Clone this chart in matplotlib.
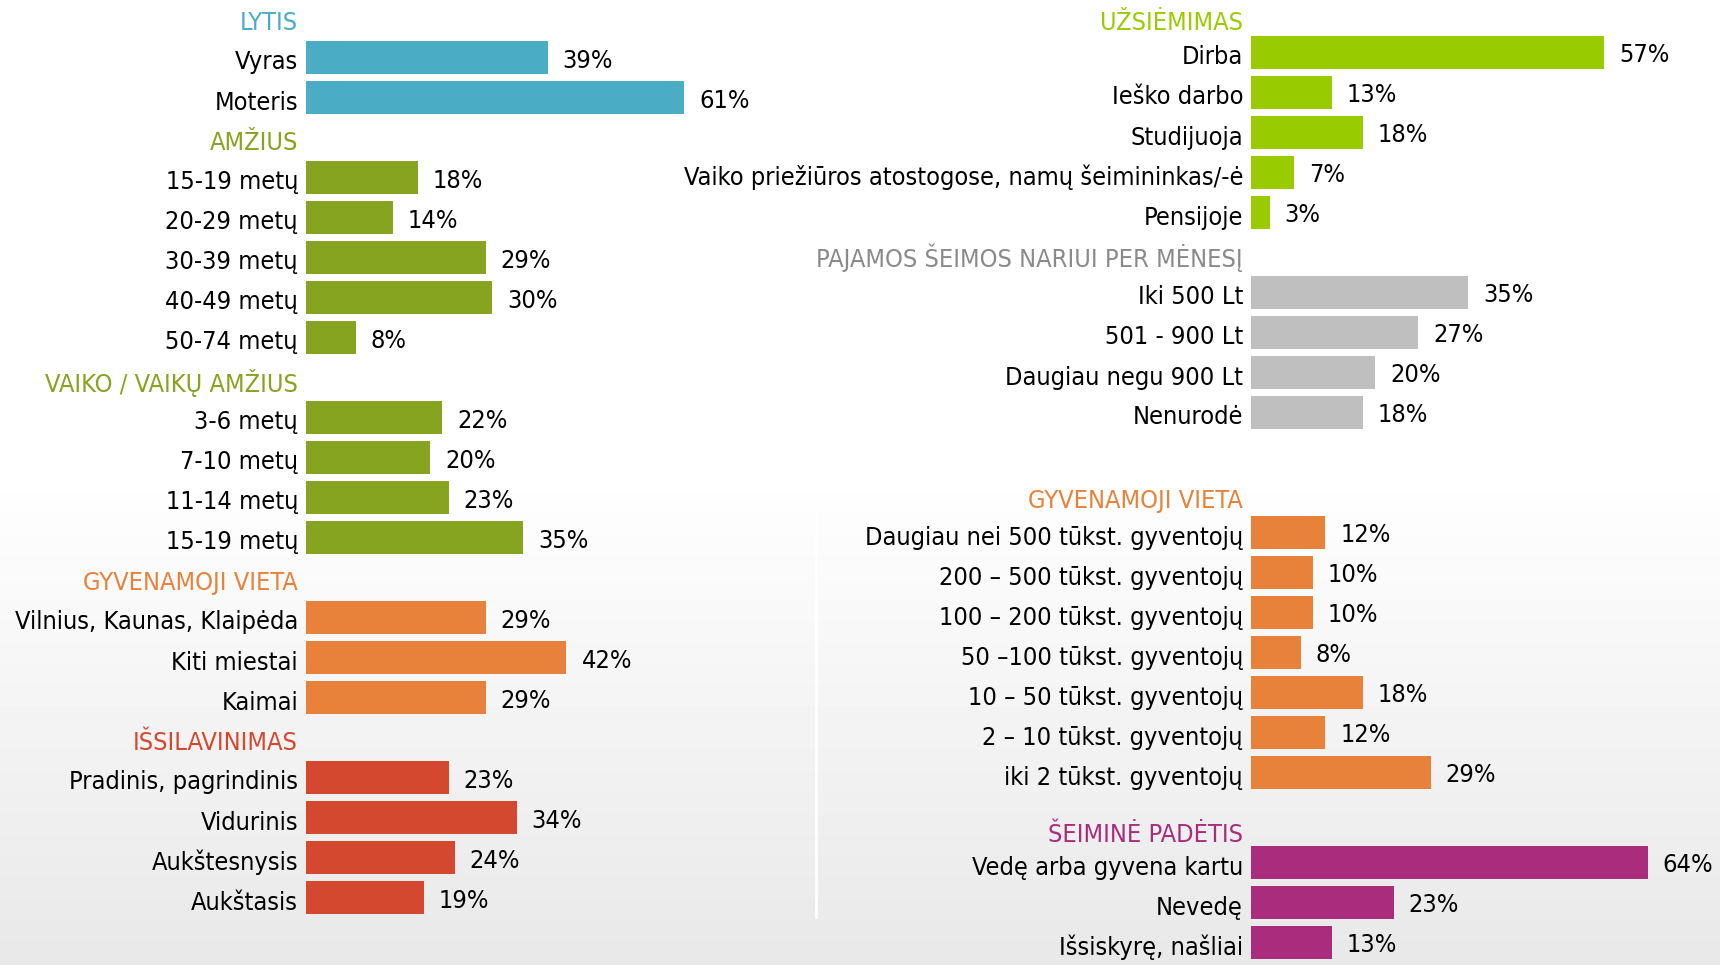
import numpy as np
import matplotlib
matplotlib.use('Agg')
import matplotlib.pyplot as plt

plt.rcParams['font.family'] = ['DejaVu Sans']

# ---------------- data ----------------
# left column
lytis_lab = ['Vyras', 'Moteris']
lytis_val = [39, 61]
amz_lab = ['15-19 metų', '20-29 metų', '30-39 metų', '40-49 metų', '50-74 metų']
amz_val = [18, 14, 29, 30, 8]
vaik_lab = ['3-6 metų', '7-10 metų', '11-14 metų', '15-19 metų']
vaik_val = [22, 20, 23, 35]
gyv_l_lab = ['Vilnius, Kaunas, Klaipėda', 'Kiti miestai', 'Kaimai']
gyv_l_val = [29, 42, 29]
iss_lab = ['Pradinis, pagrindinis', 'Vidurinis', 'Aukštesnysis', 'Aukštasis']
iss_val = [23, 34, 24, 19]

# right column
uzs_lab = ['Dirba', 'Ieško darbo', 'Studijuoja',
           'Vaiko priežiūros atostogose, namų šeimininkas/-ė', 'Pensijoje']
uzs_val = [57, 13, 18, 7, 3]
paj_lab = ['Iki 500 Lt', '501 - 900 Lt', 'Daugiau negu 900 Lt', 'Nenurodė']
paj_val = [35, 27, 20, 18]
gyv_r_lab = ['Daugiau nei 500 tūkst. gyventojų', '200 – 500 tūkst. gyventojų',
             '100 – 200 tūkst. gyventojų', '50 –100 tūkst. gyventojų',
             '10 – 50 tūkst. gyventojų', '2 – 10 tūkst. gyventojų',
             'iki 2 tūkst. gyventojų']
gyv_r_val = [12, 10, 10, 8, 18, 12, 29]
sei_lab = ['Vedę arba gyvena kartu', 'Nevedę', 'Išsiskyrę, našliai']
sei_val = [64, 23, 13]

# colours
c_blue = '#4BACC6'
c_olive = '#86A41F'
c_orange = '#E8813A'
c_red = '#D4482F'
c_lime = '#99CC00'
c_gray = '#BFBFBF'
c_gray_txt = '#8A8A8A'
c_mag = '#A92C7D'

# (header, labels, values, bar colour, header colour, header row, first item row)
left_groups = [
    ('LYTIS', lytis_lab, lytis_val, c_blue, c_blue, 0.06, 1),
    ('AMŽIUS', amz_lab, amz_val, c_olive, c_olive, 3.06, 4),
    ('VAIKO / VAIKŲ AMŽIUS', vaik_lab, vaik_val, c_olive, c_olive, 9.06, 10),
    ('GYVENAMOJI VIETA', gyv_l_lab, gyv_l_val, c_orange, c_orange, 14.06, 15),
    ('IŠSILAVINIMAS', iss_lab, iss_val, c_red, c_red, 18.06, 19),
]
right_groups = [
    ('UŽSIĖMIMAS', uzs_lab, uzs_val, c_lime, c_lime, 0.19, 1),
    ('PAJAMOS ŠEIMOS NARIUI PER MĖNESĮ', paj_lab, paj_val, c_gray, c_gray_txt, 6.06, 7),
    ('GYVENAMOJI VIETA', gyv_r_lab, gyv_r_val, c_orange, c_orange, 12.14, 13),
    ('ŠEIMINĖ PADĖTIS', sei_lab, sei_val, c_mag, c_mag, 20.5, 21.25),
]

# ---------------- layout (pixels) ----------------
W, H = 1720, 965
PXP = 6.2          # pixels per percent
ROW = 40.0         # row pitch
BAR_H = 33.0
FS = 18.2
TXT = dict(fontsize=FS, fontstretch='condensed')

fig = plt.figure(figsize=(W / 100, H / 100), dpi=100)

# background gradient
ax_bg = fig.add_axes([0, 0, 1, 1], zorder=-1)
yy = np.arange(H)
g = np.clip((yy - 470) / (H - 470), 0, 1)
shade = 1.0 - g * (1.0 - 232 / 255)
img = np.repeat(shade[:, None], 2, axis=1)
ax_bg.imshow(img, cmap='gray', vmin=0, vmax=1, aspect='auto',
             extent=(0, W, H, 0))
ax_bg.plot([816, 816], [475, 917], color='white', lw=2)
ax_bg.set_xlim(0, W)
ax_bg.set_ylim(H, 0)
ax_bg.axis('off')


def panel(x0, y0, groups):
    xmax = (W - x0) / PXP
    ax = fig.add_axes([x0 / W, 0, (W - x0) / W, 1])
    ax.set_xlim(0, xmax)
    ax.set_ylim(H, 0)
    ax.axis('off')
    gap = 8 / PXP
    for head, labs, vals, col, hcol, hrow, frow in groups:
        ax.text(-gap, y0 + hrow * ROW + 3, head, ha='right', va='center',
                color=hcol, **TXT)
        ys = [y0 + (frow + i) * ROW for i in range(len(labs))]
        ax.barh(ys, vals, height=BAR_H, left=0, color=col)
        for y, lab, v in zip(ys, labs, vals):
            ax.text(-gap, y + 5, lab, ha='right', va='center',
                    color='black', **TXT)
            ax.text(v + 15 / PXP, y + 3, '%d%%' % v, ha='left', va='center',
                    color='black', **TXT)
    return ax


panel(306, 17.5, left_groups)
panel(1251, 12.5, right_groups)

fig.savefig('out.png', dpi=100)
